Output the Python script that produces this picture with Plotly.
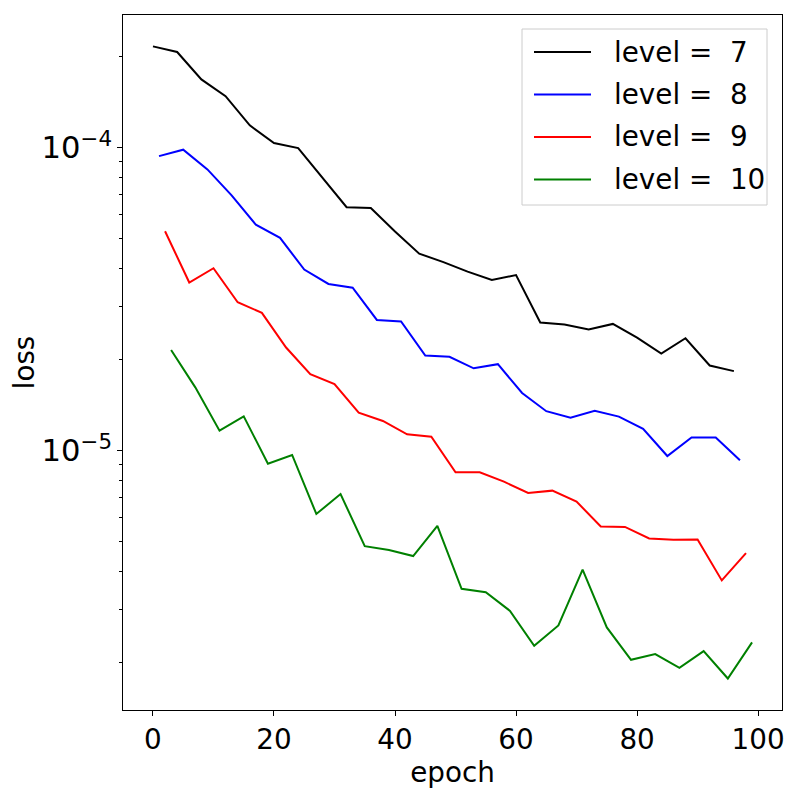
import plotly.graph_objects as go

# loss vs epoch for each refinement level
levels = [7, 8, 9, 10]
colors = ['black', 'blue', 'red', 'green']

epochs_7 = [0, 4, 8, 12, 16, 20, 24, 28, 32, 36, 40, 44, 48,
            52, 56, 60, 64, 68, 72, 76, 80, 84, 88, 92, 96]
loss_7 = [2.16e-4, 2.07e-4, 1.68e-4, 1.48e-4, 1.185e-4, 1.036e-4, 9.97e-5, 7.98e-5, 6.36e-5,
          6.32e-5, 5.29e-5, 4.47e-5, 4.19e-5, 3.90e-5, 3.66e-5, 3.80e-5, 2.65e-5, 2.61e-5,
          2.51e-5, 2.62e-5, 2.36e-5, 2.09e-5, 2.35e-5, 1.91e-5, 1.83e-5]

epochs_8 = [1, 5, 9, 13, 17, 21, 25, 29, 33, 37, 41, 45, 49,
            53, 57, 61, 65, 69, 73, 77, 81, 85, 89, 93, 97]
loss_8 = [9.38e-5, 9.85e-5, 8.48e-5, 6.96e-5, 5.57e-5, 5.04e-5, 3.96e-5, 3.55e-5, 3.45e-5,
          2.70e-5, 2.67e-5, 2.06e-5, 2.04e-5, 1.87e-5, 1.93e-5, 1.55e-5, 1.35e-5, 1.285e-5,
          1.355e-5, 1.295e-5, 1.18e-5, 9.60e-6, 1.106e-5, 1.106e-5, 9.29e-6]

epochs_9 = [2, 6, 10, 14, 18, 22, 26, 30, 34, 38, 42, 46, 50,
            54, 58, 62, 66, 70, 74, 78, 82, 86, 90, 94, 98]
loss_9 = [5.30e-5, 3.59e-5, 4.00e-5, 3.09e-5, 2.85e-5, 2.19e-5, 1.79e-5, 1.66e-5, 1.335e-5,
          1.253e-5, 1.132e-5, 1.112e-5, 8.48e-6, 8.48e-6, 7.90e-6, 7.25e-6, 7.38e-6, 6.79e-6,
          5.62e-6, 5.60e-6, 5.13e-6, 5.08e-6, 5.09e-6, 3.73e-6, 4.59e-6]

epochs_10 = [3, 7, 11, 15, 19, 23, 27, 31, 35, 39, 43, 47, 51,
             55, 59, 63, 67, 71, 75, 79, 83, 87, 91, 95, 99]
loss_10 = [2.15e-5, 1.618e-5, 1.164e-5, 1.298e-5, 9.06e-6, 9.68e-6, 6.18e-6, 7.19e-6, 4.84e-6,
           4.70e-6, 4.49e-6, 5.65e-6, 3.50e-6, 3.41e-6, 2.96e-6, 2.27e-6, 2.65e-6, 4.05e-6,
           2.61e-6, 2.04e-6, 2.13e-6, 1.92e-6, 2.18e-6, 1.77e-6, 2.33e-6]

x_ticks = [0, 20, 40, 60, 80, 100]

# plot area on screen (px); the page body adds an 8px margin around the figure
AX_L, AX_T, AX_R, AX_B = 123, 15, 782, 710
OFF = 8
W = H = 792


def px2paper(px, py):
    # screen pixel -> paper coords, used for the hand drawn legend box
    return (px - AX_L) / (AX_R - AX_L), (AX_B - py) / (AX_B - AX_T)


if __name__ == '__main__':
    all_epochs = [epochs_7, epochs_8, epochs_9, epochs_10]
    all_loss = [loss_7, loss_8, loss_9, loss_10]

    fig = go.Figure()
    for lev, col, ep, ls in zip(levels, colors, all_epochs, all_loss):
        fig.add_trace(go.Scatter(
            x=ep, y=ls, mode='lines',
            line=dict(color=col, width=2),
            name='level = ' + str(lev),
            showlegend=False,
        ))

    font = dict(family='DejaVu Sans', size=27.8, color='black')

    # legend like matplotlib's: framed box, long handles, text on the right
    bx0, by0 = px2paper(522, 205)
    bx1, by1 = px2paper(767, 29)
    fig.add_shape(type='rect', xref='paper', yref='paper',
                  x0=bx0, y0=by0, x1=bx1, y1=by1,
                  line=dict(color='#cccccc', width=1), fillcolor='white', layer='above')
    row_y = [52, 94.5, 137, 179.5]
    for lev, col, ry in zip(levels, colors, row_y):
        hx0, hy = px2paper(534, ry)
        hx1, _ = px2paper(591, ry)
        tx, _ = px2paper(612, ry)
        fig.add_shape(type='line', xref='paper', yref='paper',
                      x0=hx0, x1=hx1, y0=hy, y1=hy,
                      line=dict(color=col, width=2), layer='above')
        fig.add_annotation(xref='paper', yref='paper', x=tx, y=hy,
                           xanchor='left', yanchor='middle', showarrow=False,
                           text='level =\u00a0\u00a0' + str(lev), font=font)

    fig.update_layout(
        width=W, height=H,
        margin=dict(l=AX_L - OFF, r=W + OFF - AX_R, t=AX_T - OFF, b=H + OFF - AX_B),
        paper_bgcolor='white', plot_bgcolor='white',
        font=font,
        showlegend=False,
    )
    fig.update_xaxes(
        range=[-4.95, 103.95], tickvals=x_ticks, automargin=False,
        showline=True, linecolor='black', linewidth=1, mirror=True,
        ticks='outside', ticklen=5, tickcolor='black',
        showgrid=False, zeroline=False,
        title=dict(text='epoch', standoff=0, font=font),
    )
    fig.update_yaxes(
        type='log', range=[-5.856, -3.562], dtick=1, automargin=False,
        exponentformat='power', showexponent='all',
        tickfont=dict(family='DejaVu Sans', size=24.5, color='black'),
        ticklabelstandoff=0,
        showline=True, linecolor='black', linewidth=1, mirror=True,
        ticks='outside', ticklen=5, tickcolor='black',
        minor=dict(ticks='outside', ticklen=3, tickcolor='black', showgrid=False),
        showgrid=False, zeroline=False,
        title=dict(text='loss', standoff=9, font=font),
    )
    fig.write_html('out.html')
